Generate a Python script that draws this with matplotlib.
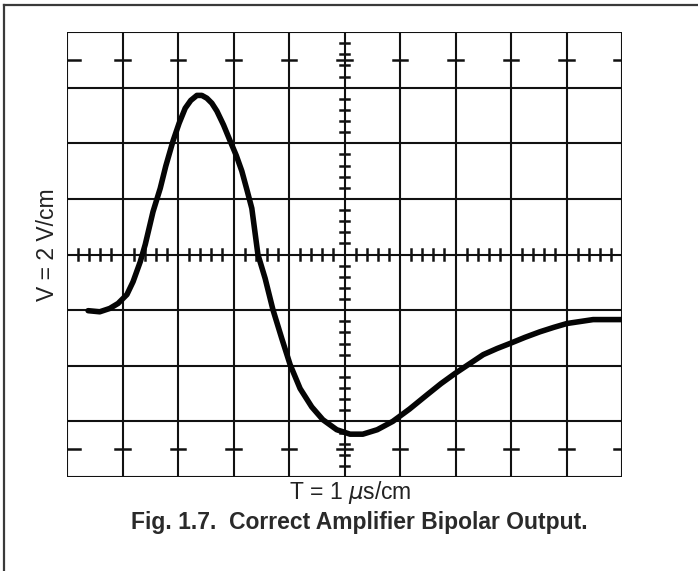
import matplotlib.pyplot as plt
import numpy as np
from matplotlib.lines import Line2D

plt.rcParams['font.family'] = ['Liberation Sans', 'DejaVu Sans']

# Scope trace (divisions: x 0..10, y -4..4)
trace_x = [0.38, 0.59, 0.77, 0.92, 1.08, 1.19, 1.32, 1.41, 1.55, 1.68, 1.78, 1.91, 2.02,
           2.13, 2.23, 2.34, 2.43, 2.52, 2.61, 2.70, 2.82, 2.94, 3.05, 3.15, 3.24, 3.33,
           3.44, 3.57, 3.71, 3.87, 4.02, 4.20, 4.41, 4.61, 4.86, 5.10, 5.33, 5.59, 5.87,
           6.17, 6.49, 6.74, 6.99, 7.26, 7.50, 7.75, 7.98, 8.25, 8.52, 8.77, 9.01, 9.48, 10.0]
trace_y = [-1.01, -1.03, -0.97, -0.88, -0.72, -0.49, -0.13, 0.18, 0.77, 1.19, 1.59, 2.04, 2.36,
           2.63, 2.77, 2.86, 2.86, 2.81, 2.72, 2.58, 2.33, 2.04, 1.78, 1.50, 1.17, 0.83,
           0.0, -0.43, -0.99, -1.51, -1.98, -2.41, -2.74, -2.97, -3.15, -3.23, -3.23, -3.15, -3.00,
           -2.78, -2.52, -2.32, -2.14, -1.96, -1.80, -1.69, -1.60, -1.49, -1.39, -1.31, -1.24,
           -1.17, -1.17]

x_label = 'T = 1 $\\mu$s/cm'
y_label = 'V = 2 V/cm'
caption = 'Fig. 1.7.  Correct Amplifier Bipolar Output.'

W, H = 698, 571
fig = plt.figure(figsize=(W / 100, H / 100), dpi=100)

# outer frame (only left and top edges visible)
fc = '#3a3a3a'
fig.add_artist(Line2D([4 / W, 4 / W], [0, 1 - 5 / H], color=fc, lw=1.6))
fig.add_artist(Line2D([4 / W, 1], [1 - 5 / H, 1 - 5 / H], color=fc, lw=1.6))

left, right, top, bottom = 67, 622, 32, 477
ax = fig.add_axes([left / W, 1 - bottom / H, (right - left) / W, (bottom - top) / H])
ax.set_xlim(0, 10)
ax.set_ylim(-4, 4)
ax.axis('off')

gc = '#111111'
glw = 1.5
for xv in range(11):
    ax.plot([xv, xv], [-4, 4], color=gc, lw=glw, solid_capstyle='projecting')
for yv in range(-4, 5):
    ax.plot([0, 10], [yv, yv], color=gc, lw=glw, solid_capstyle='projecting')

# minor ticks on centre lines
for k in range(50):
    if k % 5:
        xv = k * 0.2
        ax.plot([xv, xv], [-0.1, 0.1], color=gc, lw=1.8)
for k in range(-20, 20):
    if k % 5:
        yv = k * 0.2
        ax.plot([4.92, 5.08], [yv, yv], color=gc, lw=1.8)

# half-division marks near top and bottom rows
for yv in (3.5, -3.5):
    for xv in range(11):
        if xv == 0:
            xs = [0, 0.24]
        elif xv == 10:
            xs = [9.86, 10]
        else:
            xs = [xv - 0.13, xv + 0.13]
        ax.plot(xs, [yv, yv], color=gc, lw=1.8)

ax.plot(trace_x, trace_y, color='#050505', lw=4.0, solid_capstyle='round',
        solid_joinstyle='round')

tc = '#222222'
fig.text(350 / W, 1 - 492 / H, x_label, ha='center', va='center', fontsize=16.5, color=tc)
fig.text(47 / W, 1 - 245 / H, y_label, ha='center', va='center', rotation=90,
         fontsize=16.5, color=tc)
fig.text(359 / W, 1 - 523 / H, caption, ha='center', va='center', fontsize=16.5,
         fontweight='bold', color='#2a2a2a')

fig.savefig('out.png', dpi=100)
